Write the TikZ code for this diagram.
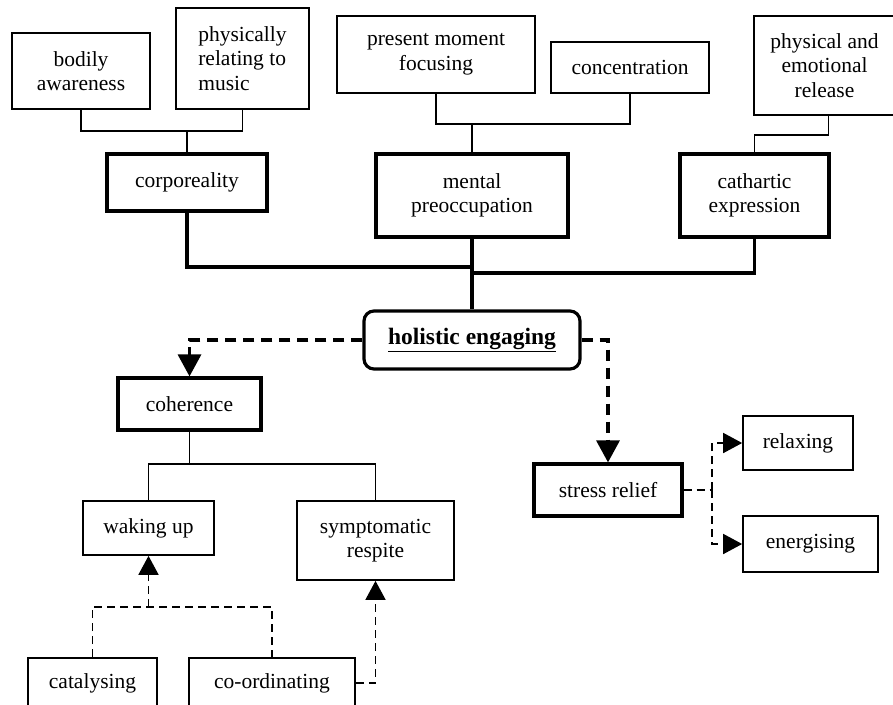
\documentclass[tikz,border=0pt]{standalone}
\usepackage{fontspec}
\setmainfont{Liberation Serif}
\usetikzlibrary{arrows.meta}

\tikzset{
  leaf/.style={draw, line width=1.7pt, rectangle, align=center, inner sep=0pt,
    font=\fontsize{21.5}{24.5}\selectfont},
  theme/.style={leaf, line width=3.2pt},
  core/.style={draw, line width=3.2pt, rounded corners=10pt, align=center, inner sep=0pt,
    font=\fontsize{23.5}{26}\selectfont\bfseries},
  thinlink/.style={line width=1.7pt},
  thicklink/.style={line width=3.2pt},
  bigdash/.style={line width=3.2pt, dash pattern=on 11pt off 7pt,
    -{Triangle[width=23pt,length=22pt]}},
  smalldash/.style={line width=1.7pt, dash pattern=on 8pt off 5pt},
  smallarrow/.style={smalldash, -{Triangle[width=20pt,length=19pt]}}
}

\begin{document}
\begin{tikzpicture}[x=1pt, y=-1pt]
\useasboundingbox (0,0) rectangle (893,704);
\clip (0,0) rectangle (893,704);
\fill[white] (0,0) rectangle (893,704);

% upper row of leaves
\node[leaf, minimum width=138pt, minimum height=76pt] (bod) at (81,71) {bodily\\awareness};
\node[leaf, minimum width=133pt, minimum height=101pt, align=left] (phy) at (242.5,58.5) {physically\\relating to\\music};
\node[leaf, minimum width=198pt, minimum height=77pt] (pmf) at (436,54.5) {present moment\\focusing};
\node[leaf, minimum width=158pt, minimum height=51pt] (con) at (630,67.5) {concentration};
\node[leaf, minimum width=141pt, minimum height=99pt] (rel) at (824.5,65.5) {physical and\\emotional\\release};

% themes
\node[theme, minimum width=160pt, minimum height=57pt] (cor) at (187,182.5) {corporeality};
\node[theme, minimum width=192pt, minimum height=83pt] (men) at (472,195.5) {mental\\preoccupation};
\node[theme, minimum width=149pt, minimum height=83pt] (cat) at (754.5,195.5) {cathartic\\expression};

% central node
\node[core, minimum width=216pt, minimum height=58pt] (hol) at (472,340) {\underline{holistic engaging}};

% lower branches
\node[theme, minimum width=143pt, minimum height=52pt] (coh) at (189.5,404) {coherence};
\node[theme, minimum width=148pt, minimum height=52pt] (str) at (608,490) {stress relief};
\node[leaf, minimum width=110pt, minimum height=54pt] (rlx) at (798,443) {relaxing};
\node[leaf, minimum width=135pt, minimum height=56pt] (ene) at (810.5,544) {energising};
\node[leaf, minimum width=131pt, minimum height=54pt] (wak) at (148.5,528) {waking up};
\node[leaf, minimum width=157pt, minimum height=79pt] (sym) at (375.5,540.5) {symptomatic\\respite};
\node[leaf, minimum width=129pt, minimum height=50pt] (cly) at (92.5,683) {catalysing};
\node[leaf, minimum width=166pt, minimum height=50pt] (cod) at (272,683) {co-ordinating};

% junction points
\coordinate (j1) at (187,131);
\coordinate (j2) at (472,124);
\coordinate (j3) at (754.5,135);
\coordinate (b1) at (472,267);
\coordinate (b2) at (472,273);
\coordinate (j4) at (189.5,464);
\coordinate (j5) at (148.5,607);
\coordinate (j6) at (712,490);

% leaves to themes
\draw[thinlink] (bod.south) |- (j1) -| (phy.south);
\draw[thinlink] (j1) -- (cor.north);
\draw[thinlink] (pmf.south) |- (j2) -| (con.south);
\draw[thinlink] (j2) -- (men.north);
\draw[thinlink] ([xshift=4]rel.south) |- (j3) -- (cat.north);

% themes to the central node
\draw[thicklink] (cor.south) |- (b1);
\draw[thicklink] (cat.south) |- (b2);
\draw[thicklink] (men.south) -- (hol.north);

% outcomes of holistic engaging
\draw[bigdash] (hol.west) -| (coh.north);
\draw[bigdash] (hol.east) -| (str.north);

% coherence subtree
\draw[thinlink] (coh.south) -- (j4);
\draw[thinlink] (wak.north) |- (j4) -| (sym.north);
\draw[smalldash] (cly.north) |- (j5) -| (cod.north);
\draw[smallarrow] (j5) -- (wak.south);
\draw[smallarrow] (cod.east) -| (sym.south);

% stress relief subtree
\draw[smalldash] (str.east) -- (j6);
\draw[smallarrow] (j6) |- (rlx.west);
\draw[smallarrow] (j6) |- (ene.west);
\end{tikzpicture}
\end{document}
